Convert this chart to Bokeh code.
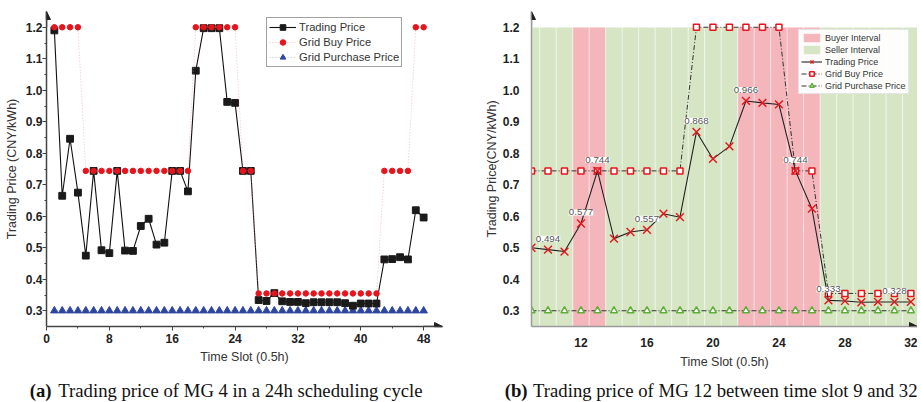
from bokeh.plotting import figure
from bokeh.models import (ColumnDataSource, FixedTicker, Legend, LegendItem, Arrow,
                          NormalHead, LabelSet, Range1d, PrintfTickFormatter)
from bokeh.layouts import column, row
from bokeh.embed import file_html
from bokeh.resources import INLINE
from bokeh.core.properties import value

# ---------------- data: (a) MG 4, 24h cycle ----------------
slots_a = list(range(1, 49))
trading_a = [1.190, 0.665, 0.846, 0.675, 0.475, 0.744, 0.492, 0.483, 0.744, 0.491,
             0.490, 0.569, 0.592, 0.510, 0.516, 0.744, 0.744, 0.679, 1.062, 1.197,
             1.197, 1.197, 0.963, 0.960, 0.744, 0.744, 0.334, 0.331, 0.356, 0.330,
             0.328, 0.328, 0.324, 0.327, 0.327, 0.327, 0.327, 0.324, 0.316, 0.323,
             0.323, 0.323, 0.463, 0.464, 0.470, 0.463, 0.619, 0.596]
grid_buy_a = [1.2, 1.2, 1.2, 1.2, 0.744, 0.744, 0.744, 0.744, 0.744, 0.744,
              0.744, 0.744, 0.744, 0.744, 0.744, 0.744, 0.744, 0.744, 1.2, 1.2,
              1.2, 1.2, 1.2, 1.2, 0.744, 0.744, 0.355, 0.355, 0.355, 0.355,
              0.355, 0.355, 0.355, 0.355, 0.355, 0.355, 0.355, 0.355, 0.355, 0.355,
              0.355, 0.355, 0.744, 0.744, 0.744, 0.744, 1.2, 1.2]
grid_purchase_a = [0.3, 0.3, 0.3, 0.3, 0.3, 0.3, 0.3, 0.3, 0.3, 0.3,
                   0.3, 0.3, 0.3, 0.3, 0.3, 0.3, 0.3, 0.3, 0.3, 0.3,
                   0.3, 0.3, 0.3, 0.3, 0.3, 0.3, 0.3, 0.3, 0.3, 0.3,
                   0.3, 0.3, 0.3, 0.3, 0.3, 0.3, 0.3, 0.3, 0.3, 0.3,
                   0.3, 0.3, 0.3, 0.3, 0.3, 0.3, 0.3, 0.3]
xticks_a = [0, 8, 16, 24, 32, 40, 48]
xminor_a = [4, 12, 20, 28, 36, 44]

# ---------------- data: (b) MG 12, slots 9..32 ----------------
slots_b = list(range(9, 33))
trading_b = [0.500, 0.494, 0.488, 0.577, 0.744, 0.529, 0.550, 0.557, 0.608, 0.597,
             0.868, 0.782, 0.822, 0.966, 0.960, 0.955, 0.744, 0.624, 0.333, 0.331,
             0.327, 0.328, 0.328, 0.328]
grid_buy_b = [0.744, 0.744, 0.744, 0.744, 0.744, 0.744, 0.744, 0.744, 0.744, 0.744,
              1.2, 1.2, 1.2, 1.2, 1.2, 1.2, 0.744, 0.744, 0.355, 0.355,
              0.355, 0.355, 0.355, 0.355]
grid_purchase_b = [0.3, 0.3, 0.3, 0.3, 0.3, 0.3, 0.3, 0.3, 0.3, 0.3,
                   0.3, 0.3, 0.3, 0.3, 0.3, 0.3, 0.3, 0.3, 0.3, 0.3,
                   0.3, 0.3, 0.3, 0.3]
role_b = ["S", "S", "S", "B", "B", "S", "S", "S", "S", "S",
          "S", "S", "S", "B", "B", "B", "B", "B", "S", "S",
          "S", "S", "S", "S"]
label_slots_b = [10, 12, 13, 16, 19, 22, 25, 27, 31]
xticks_b = [12, 16, 20, 24, 28, 32]

yticks = [0.3, 0.4, 0.5, 0.6, 0.7, 0.8, 0.9, 1.0, 1.1, 1.2]
yminor = [0.35, 0.45, 0.55, 0.65, 0.75, 0.85, 0.95, 1.05, 1.15]
y_lo, y_hi = 0.25, 1.25
shade_top = 1.2

captions = [("(a)", "Trading price of MG 4 in a 24h scheduling cycle"),
            ("(b)", "Trading price of MG 12 between time slot 9 and 32")]

FONT = "Liberation Sans"
RED = "#e8141c"
PINK = "#f4b6bb"
GREEN = "#d6e6c4"


def style_axes(p, line_color):
    for ax in (p.xaxis[0], p.yaxis[0]):
        ax.axis_line_color = line_color
        ax.axis_line_width = 1.5
        ax.major_label_text_font = FONT
        ax.major_label_text_font_style = "bold"
        ax.major_label_text_font_size = "12px"
        ax.major_label_text_color = "#222222"
        ax.axis_label_text_font = FONT
        ax.axis_label_text_font_style = "normal"
        ax.axis_label_text_font_size = "12.5px"
        ax.axis_label_text_color = "#333333"
    p.yaxis.formatter = PrintfTickFormatter(format="%.1f")
    p.grid.visible = False
    p.outline_line_color = None


# ================= figure (a) =================
pa = figure(width=480, height=376, min_border_left=46, min_border_right=38,
            min_border_top=11, min_border_bottom=50,
            x_range=Range1d(0, 50.4), y_range=Range1d(y_lo, y_hi),
            output_backend="svg", toolbar_location=None)
style_axes(pa, "#444444")
pa.xaxis.ticker = FixedTicker(ticks=xticks_a, minor_ticks=xminor_a)
pa.yaxis.ticker = FixedTicker(ticks=yticks, minor_ticks=yminor)
pa.xaxis.axis_label = "Time Slot (0.5h)"
pa.yaxis.axis_label = "Trading Price (CNY/kWh)"
for ax in (pa.xaxis[0], pa.yaxis[0]):
    ax.major_tick_line_color = "#444444"
    ax.minor_tick_line_color = "#444444"
    ax.major_tick_in = 0
    ax.major_tick_out = 4
    ax.minor_tick_in = 0
    ax.minor_tick_out = 2
pa.yaxis.major_label_standoff = 0
pa.yaxis.axis_label_standoff = 4
pa.xaxis.major_label_standoff = 3
pa.xaxis.axis_label_standoff = 4

src_a = ColumnDataSource(dict(x=slots_a, t=trading_a, gb=grid_buy_a, gp=grid_purchase_a))
gp_line = pa.line("x", "gp", source=src_a, line_color="#3a4fa8", line_dash="1 2",
                  line_alpha=0.35, line_width=1)
gp_pts = pa.scatter("x", "gp", source=src_a, marker="triangle", size=7.5,
                    fill_color="#2e46a0", line_color="#2e46a0")
t_line = pa.line("x", "t", source=src_a, line_color="#111111", line_width=1.1)
t_pts = pa.scatter("x", "t", source=src_a, marker="square", size=6.8,
                   fill_color="#1a1a1a", line_color="#1a1a1a")
gb_line = pa.line("x", "gb", source=src_a, line_color="#f08a94", line_dash="1 2",
                  line_alpha=0.6, line_width=1)
gb_pts = pa.scatter("x", "gb", source=src_a, marker="circle", size=5.5,
                    fill_color=RED, line_color=RED)

leg_a = Legend(items=[
    LegendItem(label="Trading Price", renderers=[t_line, t_pts]),
    LegendItem(label="Grid Buy Price", renderers=[gb_line, gb_pts]),
    LegendItem(label="Grid Purchase Price", renderers=[gp_line, gp_pts]),
], location=(220, 259))
leg_a.label_text_font = FONT
leg_a.label_text_font_size = "11.2px"
leg_a.label_text_color = "#333333"
leg_a.glyph_width = 27
leg_a.glyph_height = 14
leg_a.label_height = 14
leg_a.label_standoff = 3
leg_a.spacing = 1
leg_a.padding = 2
leg_a.margin = 0
leg_a.border_line_color = "#444444"
leg_a.border_line_width = 1.2
pa.add_layout(leg_a)

head_kw = dict(size=8, fill_color="#222222", line_color="#222222")
pa.add_layout(Arrow(end=NormalHead(**head_kw), x_start=0, y_start=shade_top,
                    x_end=0, y_end=y_hi, line_color="#444444", line_width=1.5))
pa.add_layout(Arrow(end=NormalHead(**head_kw), x_start=48, y_start=y_lo,
                    x_end=50.4, y_end=y_lo, line_color="#444444", line_width=1.5))

# ================= figure (b) =================
pb = figure(width=437, height=376, min_border_left=51, min_border_right=0,
            min_border_top=11, min_border_bottom=50,
            x_range=Range1d(9, 32.4), y_range=Range1d(y_lo, y_hi),
            output_backend="svg", toolbar_location=None)
style_axes(pb, "#9a9a9a")
pb.xaxis.ticker = FixedTicker(ticks=xticks_b, minor_ticks=[])
pb.yaxis.ticker = FixedTicker(ticks=yticks, minor_ticks=[])
pb.xaxis.axis_label = "Time Slot (0.5h)"
pb.yaxis.axis_label = "Trading Price(CNY/kWh)"
for ax in (pb.xaxis[0], pb.yaxis[0]):
    ax.major_tick_line_color = None
    ax.minor_tick_line_color = None
pb.yaxis.major_label_standoff = 6
pb.yaxis.axis_label_standoff = 1
pb.xaxis.major_label_standoff = 5
pb.xaxis.axis_label_standoff = 5

buyer_x = [s for s, r in zip(slots_b, role_b) if r == "B"]
seller_x = [s for s, r in zip(slots_b, role_b) if r == "S"]
buy_bars = pb.vbar(x=buyer_x, width=1, bottom=y_lo, top=shade_top, fill_color=PINK,
                   line_color="white", line_alpha=0.4, line_width=1)
sell_bars = pb.vbar(x=seller_x, width=1, bottom=y_lo, top=shade_top, fill_color=GREEN,
                    line_color="white", line_alpha=0.4, line_width=1)

src_b = ColumnDataSource(dict(x=slots_b, t=trading_b, gb=grid_buy_b, gp=grid_purchase_b))
gp_line_b = pb.line("x", "gp", source=src_b, line_color="#333333", line_dash="5 2 1 2",
                    line_width=1)
gp_pts_b = pb.scatter("x", "gp", source=src_b, marker="triangle", size=7,
                      fill_color="white", line_color="#5fae3a", line_width=1.5)
gb_line_b = pb.line("x", "gb", source=src_b, line_color="#333333", line_dash="5 2 1 2",
                    line_width=1)
gb_pts_b = pb.scatter("x", "gb", source=src_b, marker="square", size=6,
                      fill_color="white", line_color=RED, line_width=1.5)
t_line_b = pb.line("x", "t", source=src_b, line_color="#222222", line_width=1.1)
t_pts_b = pb.scatter("x", "t", source=src_b, marker="x", size=11,
                     line_color=RED, line_width=1.4)

lab_vals = [trading_b[slots_b.index(s)] for s in label_slots_b]
lab_src = ColumnDataSource(dict(x=label_slots_b, y=lab_vals,
                                txt=["%.3f" % v for v in lab_vals]))
pb.add_layout(LabelSet(x="x", y="y", text="txt", source=lab_src, y_offset=8,
                       text_align="center", text_baseline="bottom",
                       text_font=value(FONT), text_font_size="9.8px", text_color="#555555",
                       background_fill_color="white", background_fill_alpha=1))

leg_b = Legend(items=[
    LegendItem(label="Buyer Interval", renderers=[buy_bars]),
    LegendItem(label="Seller Interval", renderers=[sell_bars]),
    LegendItem(label="Trading Price", renderers=[t_line_b, t_pts_b]),
    LegendItem(label="Grid Buy Price", renderers=[gb_line_b, gb_pts_b]),
    LegendItem(label="Grid Purchase Price", renderers=[gp_line_b, gp_pts_b]),
], location=(267, 232))
leg_b.label_text_font = FONT
leg_b.label_text_font_size = "9px"
leg_b.label_text_color = "#333333"
leg_b.glyph_width = 21
leg_b.glyph_height = 11
leg_b.label_height = 11
leg_b.label_standoff = 3
leg_b.spacing = 1
leg_b.padding = 2
leg_b.margin = 0
leg_b.border_line_color = "#cccccc"
leg_b.border_line_width = 1
pb.add_layout(leg_b)

pb.add_layout(Arrow(end=NormalHead(**head_kw), x_start=9, y_start=shade_top,
                    x_end=9, y_end=y_hi, line_color="#9a9a9a", line_width=1.5))
pb.add_layout(Arrow(end=NormalHead(**head_kw), x_start=32, y_start=y_lo,
                    x_end=32.4, y_end=y_lo, line_color="#9a9a9a", line_width=1.5))

# ================= captions =================
cap = figure(width=920, height=26, x_range=Range1d(0, 920), y_range=Range1d(0, 26),
             output_backend="svg", toolbar_location=None, min_border=0)
cap.axis.visible = False
cap.grid.visible = False
cap.outline_line_color = None
cap.text(x=[51, 527], y=[12, 12], text=[c[0] for c in captions], text_align="right",
         text_baseline="middle", text_font=value("Liberation Serif"),
         text_font_style="bold", text_font_size="18.7px", text_color="#111111")
cap.text(x=[422, 917], y=[12, 12], text=[c[1] for c in captions],
         text_align="right", text_baseline="middle", text_font=value("Liberation Serif"),
         text_font_size="18.7px", text_color="#111111")

layout = column(row(pa, pb), cap)
open("out.html", "w").write(file_html(layout, INLINE))
